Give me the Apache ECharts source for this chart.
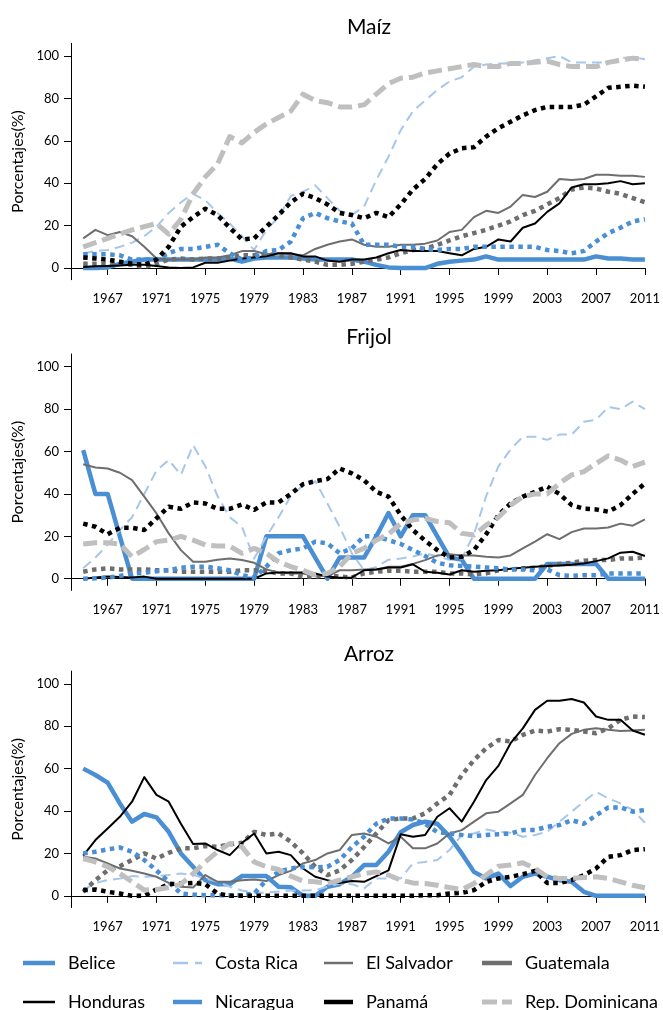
<!DOCTYPE html>
<html>
<head>
<meta charset="utf-8">
<script src="https://cdn.jsdelivr.net/npm/echarts@6/dist/echarts.min.js"></script>
<style>
  html, body { margin: 0; padding: 0; background: #ffffff; }
  #chart { width: 663px; height: 1010px; }
</style>
</head>
<body>
<div id="chart"></div>
<script>
// Years shown on the horizontal axis of every panel
const years = [1965,1966,1967,1968,1969,1970,1971,1972,1973,1974,
               1975,1976,1977,1978,1979,1980,1981,1982,1983,1984,
               1985,1986,1987,1988,1989,1990,1991,1992,1993,1994,
               1995,1996,1997,1998,1999,2000,2001,2002,2003,2004,
               2005,2006,2007,2008,2009,2010,2011];
const xTickYears = [1967,1971,1975,1979,1983,1987,1991,1995,1999,2003,2007,2011];
const yTickValues = [0,20,40,60,80,100];
const panelTitles = ['Maíz','Frijol','Arroz'];
const countries = ['Belice','Costa Rica','El Salvador','Guatemala','Honduras','Nicaragua','Panamá','Rep. Dominicana'];

// ---- Maíz (%) ----
const beliceMaiz    = [0,0,0.3,2,3,4,4,4,4,4, 4,4,4.5,3,4.5,5,5,5,4.5,4, 4,4,4,3,1.5,0.3,0,0,0,2, 3,3.5,4,5.5,4,4,4,4,4,4, 4,4,5.5,4.5,4.5,4,4];
const costaRicaMaiz = [7,8,8.5,10,12,15,19.5,26,31,35, 32,26,21,15,8.5,18,24,34,36,39, 33,27,25,29,41.5,52.5,65,74,79,84, 88,90,95,96,96.5,96.5,97,98,99,100, 97,97,97,97,99,99.5,98.5];
const salvadorMaiz  = [14,18,15.5,17,15,10,4.5,4,4,4, 5,5,6,8,8,6.5,7,6.5,6,9, 11,12.5,13.5,11,10,10,11,11,11.5,13, 17,18,24,27,26,29,34.5,33.5,36,42, 41.5,42,44,44,43.5,43.5,43];
const guatemalaMaiz = [2,2,2,2,1.5,0.5,2,4,4.5,4, 4.5,4.5,5,6,6,6.5,6,5,4,3, 1.5,1.5,2,3,4,5,7,8.5,9,11, 13,15,16.5,18,20,22,25,27,30,33, 37,38,37.5,36,35,33,31];
const hondurasMaiz  = [0.5,0.8,1,1.2,1.5,1.5,1,0.3,0,0.3, 2.5,2.5,3.5,4.5,5,5.5,7,7,5.5,5.5, 3.5,3,4,4,5,7,8.5,8,8,8, 7,6,9,10,13.5,12.5,19,21,26.5,30.5, 38,39.5,39.5,40,41,39.5,40];
const nicaraguaMaiz = [6.5,6.5,6.5,6,4,4,4,7,9,9, 10,11,7,4,5,8,8.5,12.5,23.5,26, 23.5,22,21,11,11,11,10,10,9,8.5, 9,9,10,10,10,10,10,10,8.5,8, 7,8,12.5,16.5,19,22,23];
const panamaMaiz    = [5,4.5,4,3,2,1.5,4,10,19.5,24, 28,25,19,13.5,14,19.5,25,31,35,33, 30,26,25,23.5,26,24,30,37,42,49, 54,56.5,57,62,66,69,72,74.5,76,76, 76,77,81,85,85.5,86,85.5];
const repDomMaiz    = [10,12,14,16,18,19.5,21,16,23,35, 43,49,62,59,64,68,71,74,82,79, 78,76,76,77,82,87,89.5,90,92,93, 94,95,96,95,95,96.5,96.5,97,97.6,96, 95,95,95,97,98,99,98.5];

// ---- Frijol (%) ----
const beliceFrijol    = [60.7,40,40,20,0,0,0,0,0,0, 0,0,0,0,0,20,20,20,20,10, 0,10,10,10,20,31,20,30,30,20, 10,9,0,0,0,0,0,0,7,7, 7,7,7,0,0,0,0];
const costaRicaFrijol = [5,10,16,23,29,40,51,56,49,63, 53,39,29,24.5,9.5,20,29,39,44,46, 35.5,24.5,12,4,5.5,9,9.5,10.5,12,10.5, 9,9.5,21,39,53,61,67,67,65.5,68, 68,74,75,81,80,83.5,80];
const salvadorFrijol  = [54,52.5,52,50,46.5,38.7,30.8,21.4,13.5,8, 8,9,9.6,8.8,7.5,4.4,2.8,2.5,2.5,1.3, 1.3,4,4,4.4,4.4,5.7,5.7,7,8.8,11, 11.5,11,11,10.4,10,11,14.3,17.5,21,18.7, 22,23.7,23.7,24.2,26,25,28];
const guatemalaFrijol = [3.3,4.4,4.9,4.4,4.4,4.4,4,4,3.3,3.3, 3.3,3.3,3.3,4,4,3.6,2.5,2.5,1,1, 1.7,1,0.6,2.5,3.3,3.8,3.8,3.3,3.3,3.3, 2.5,2.5,2,2.5,4,4.4,4.9,5.2,6,7, 7.5,8.5,8.8,8.8,9.6,9.6,10];
const hondurasFrijol  = [0,0.6,1,0.8,0.6,1,0,0,0,0, 0,0,0,0,0,2.5,3,3,3,2.5, 1,0.5,0.6,4,4.4,5.3,5.3,6.8,3.3,2.8, 2,4,3.3,3.8,4,4.7,5.2,5.7,6,6.3, 6.6,7.2,8.3,9.6,12.3,12.7,10.7];
const nicaraguaFrijol = [0,0.2,0.6,1.3,2.5,2.8,3.5,4,5.2,5.7, 5.7,4.9,4,1.7,0.5,5.7,12,13.5,14.3,17.5, 16.7,12,14.3,20,20,18.2,16.4,13.5,10.7,7.5, 6.4,6,5.7,5.3,4.9,4.4,4.4,4,4.4,1.7, 1.3,1.7,1.7,2.5,2.5,2.5,2.5];
const panamaFrijol    = [26,24.5,21,24,24,23,28.5,34,33,36, 35.5,33,33,35,32.5,36,36,40,44.6,46, 47,52,49.7,46.5,41,38.7,30,23,18,13.5, 10,10.4,13.5,21,30,35.5,38.7,41,43.4,40, 34.7,33,32.7,31.6,34.7,40,45];
const repDomFrijol    = [16.4,17,17,16.4,10.4,13.8,17.5,18.2,20,18.2, 16,15.4,15.4,12,14.3,12,8,5.7,4,1.7, 2.5,5.7,12,14.3,18.2,21,26,27.7,28.5,27, 26.4,21.4,20.6,25.3,29,34.7,38.7,40,40,45, 49,50.5,54.4,57.9,56,53,55];

// ---- Arroz (%) ----
const beliceArroz    = [60,57,53.4,43.6,35,38.6,37,30.2,20,13.7, 7.4,5.5,5.5,9.3,9.3,9.3,4.3,4,0,0, 4.3,5.5,9,14.5,14.5,20.8,30,33.4,35,34, 28,20,11.3,8.2,10.5,4.6,9,10.5,9,7.4, 6.6,1.9,0,0,0,0,0];
const costaRicaArroz = [2.7,6.1,7.4,8.2,9.3,9,9.3,9.8,10.5,9.8, 8.2,6.6,4.3,2.5,1.5,1.5,2,2.5,2.5,2.7, 4.3,5.8,5.5,3.5,8.2,8.2,8.2,15.3,16,16.9, 21.6,28.7,29.4,31.3,30.2,29.8,27.9,28.7,30.2,35, 39.7,44.4,49.1,46,43.6,40.5,34.5];
const salvadorArroz  = [18.4,17.6,15.3,12.9,11.8,10.5,9,6.1,4.3,3.9, 9.8,6.6,6.6,7.4,7.7,7,9.8,11.8,15.3,16.9, 20,21.6,28.7,29.4,27.9,24.7,27.9,22.4,22.4,24.7, 29.4,31,35,38.9,39.7,43.6,47.6,57,64.9,72, 76.4,78.3,79,78.3,77.8,78,78.3];
const guatemalaArroz = [1.9,7.4,12,14,16.9,20,17.6,20.3,22.4,22.4, 23.5,23.1,24.4,25,30.2,28.7,29.4,25.5,20,13.7, 9.8,12,16.9,23,29.4,35.7,36.5,36.5,38.9,43.6, 47.6,57,64,69.6,73.5,72.8,75.9,78,77.5,78.6, 78.3,77.5,76.7,79,83,84.6,84.3];
const hondurasArroz  = [19,26.3,31.8,37.3,44.4,56,47.6,44.4,34,24.4, 24.7,21.6,19.2,25,29.4,20,20.8,19.2,12.9,9, 7.4,6.1,7,6.6,9.3,12,29,27.9,28.7,37.3, 41.3,35,44.4,54.6,61.3,72,79,87.7,92,92, 92.8,91.2,84.6,83,83,78,76];
const nicaraguaArroz = [20,20.8,21.9,22.8,20.8,16.9,12,6.6,1.1,0.6, 0.3,0.3,0.3,0.3,1.1,7.4,11.3,12.9,13.7,13.4, 13.7,16.9,23,27.9,34,36.5,36.5,36,34,30, 29.4,28.7,28.2,28.7,29.1,29.4,31,31,32.6,33.4, 35.7,34,38,41.7,41.7,39.7,40.5];
const panamaArroz    = [2.7,3,1.9,1.1,0,0,3,5.5,5.8,6.1, 5.5,1.1,0,0,0,0,0,0,0,0, 0,0,0,0,0,0,0,0,0.3,0.3, 1.1,1.4,2.7,6.6,8.2,9,10.2,11.8,6.1,6.1, 7.4,9.8,12.9,18.4,19.2,21.6,22];
const repDomArroz    = [17.6,16,13.7,10.5,6.6,2.7,3,3.9,5.5,10.5, 16,20.8,24.7,23.1,16,13.7,12.4,9.3,7,6.6, 5.8,7.4,9,10.5,11.3,9.8,7.4,6.1,5.8,5, 3.9,3,5.8,9.8,14,14.5,15.6,12.9,9,8.2, 8.2,8.7,9,8.2,6.6,5,3.8];

const panelData = [
  [beliceMaiz, costaRicaMaiz, salvadorMaiz, guatemalaMaiz, hondurasMaiz, nicaraguaMaiz, panamaMaiz, repDomMaiz],
  [beliceFrijol, costaRicaFrijol, salvadorFrijol, guatemalaFrijol, hondurasFrijol, nicaraguaFrijol, panamaFrijol, repDomFrijol],
  [beliceArroz, costaRicaArroz, salvadorArroz, guatemalaArroz, hondurasArroz, nicaraguaArroz, panamaArroz, repDomArroz]
];

// Line look per country
const BLUE = '#4a8fd3', LIGHTBLUE = '#a7c7ea', GRAY = '#6e6e6e', LIGHTGRAY = '#bfbfbf', BLACK = '#000000';
const lineLook = {
  'Belice':          { color: BLUE,      width: 4.5, type: 'solid' },
  'Costa Rica':      { color: LIGHTBLUE, width: 2,   type: [10, 6] },
  'El Salvador':     { color: GRAY,      width: 2,   type: 'solid' },
  'Guatemala':       { color: GRAY,      width: 4.5, type: [4.5, 4.5] },
  'Honduras':        { color: BLACK,     width: 2,   type: 'solid' },
  'Nicaragua':       { color: BLUE,      width: 4.5, type: [4.5, 4.5] },
  'Panamá':          { color: BLACK,     width: 4.5, type: [4.5, 4.5] },
  'Rep. Dominicana': { color: LIGHTGRAY, width: 5,   type: [14, 6] }
};

// Legend swatches: position (left, top) and icon shape
const legendLook = {
  'Belice':          { left: 23,  top: 954, w: 32, h: 4.5, icon: 'rect' },
  'Costa Rica':      { left: 173, top: 954, w: 29, h: 2.5, icon: 'path://M0,0h15v2.5h-15z M22,0h7v2.5h-7z' },
  'El Salvador':     { left: 324, top: 954, w: 29, h: 2.5, icon: 'rect' },
  'Guatemala':       { left: 482, top: 954, w: 30, h: 4.5, icon: 'rect' },
  'Honduras':        { left: 23,  top: 993, w: 32, h: 2.5, icon: 'rect' },
  'Nicaragua':       { left: 173, top: 993, w: 29, h: 4.5, icon: 'rect' },
  'Panamá':          { left: 324, top: 993, w: 29, h: 4.5, icon: 'rect' },
  'Rep. Dominicana': { left: 482, top: 993, w: 30, h: 5,   icon: 'path://M0,0h15v5h-15z M20,0h10v5h-10z' }
};

const FONT = 'Lato, "Open Sans", "DejaVu Sans", sans-serif';
const gridTops = [43.3, 354, 671.1];
const GRID_LEFT = 71, GRID_WIDTH = 576, GRID_HEIGHT = 236.4;

const grids = [], xAxes = [], yAxes = [], series = [], titles = [];
gridTops.forEach((top, p) => {
  grids.push({ left: GRID_LEFT, top: top, width: GRID_WIDTH, height: GRID_HEIGHT, containLabel: false });
  xAxes.push({
    type: 'value', gridIndex: p, min: 1964, max: 2011,
    axisLine: { show: true, lineStyle: { color: '#000', width: 1 } },
    axisTick: { show: true, length: 7, customValues: xTickYears, lineStyle: { color: '#000' } },
    axisLabel: { customValues: xTickYears, margin: 13, color: '#000', fontSize: 13, fontFamily: FONT,
                 formatter: v => String(v) },
    splitLine: { show: false }
  });
  yAxes.push({
    type: 'value', gridIndex: p, min: -5.5, max: 106,
    axisLine: { show: true, lineStyle: { color: '#000', width: 1 } },
    axisTick: { show: true, length: 7, customValues: yTickValues, lineStyle: { color: '#000' } },
    axisLabel: { customValues: yTickValues, margin: 12, color: '#000', fontSize: 13, fontFamily: FONT,
                 formatter: v => String(v) },
    splitLine: { show: false },
    name: 'Porcentajes(%)', nameLocation: 'middle', nameRotate: 90, nameGap: 44,
    nameTextStyle: { color: '#000', fontSize: 16, fontFamily: FONT }
  });
  titles.push({
    text: panelTitles[p], left: 364, textAlign: 'center', top: top - 32,
    textStyle: { color: '#000', fontSize: 21, fontWeight: 'normal', fontFamily: FONT }
  });
  countries.forEach((name, i) => {
    const look = lineLook[name];
    series.push({
      type: 'line', name: name, xAxisIndex: p, yAxisIndex: p,
      data: years.map((yr, k) => [yr, panelData[p][i][k]]),
      symbol: 'none', showSymbol: false, silent: true, animation: false,
      lineStyle: { color: look.color, width: look.width, type: look.type, cap: 'butt', join: 'round' },
      itemStyle: { color: look.color }
    });
  });
});

const legends = countries.map(name => {
  const L = legendLook[name];
  return {
    left: L.left, top: L.top, padding: 0, orient: 'horizontal',
    itemWidth: L.w, itemHeight: L.h, selectedMode: false,
    data: [{ name: name, icon: L.icon, itemStyle: { color: lineLook[name].color } }],
    textStyle: { color: '#000', fontSize: 18, fontFamily: FONT, padding: [0, 0, 0, 8] }
  };
});

const chart = echarts.init(document.getElementById('chart'), null, { renderer: 'canvas' });
chart.setOption({
  backgroundColor: '#ffffff',
  animation: false,
  title: titles,
  legend: legends,
  grid: grids,
  xAxis: xAxes,
  yAxis: yAxes,
  series: series
});
</script>
</body>
</html>
